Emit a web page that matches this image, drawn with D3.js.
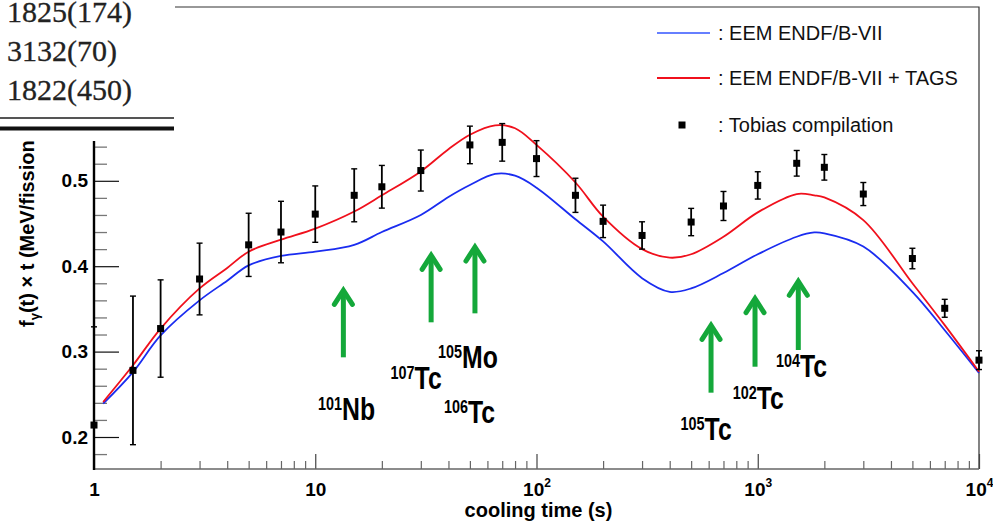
<!DOCTYPE html>
<html>
<head>
<meta charset="utf-8">
<script src="https://cdn.jsdelivr.net/npm/d3@7"></script>
<style>
  html, body { margin: 0; padding: 0; background: #fff; }
  svg { display: block; font-family: "Liberation Sans", Arial, sans-serif; }
</style>
</head>
<body>
<svg id="chart" width="993" height="525"></svg>
<script>
// Calculated gamma decay heat curves (cooling time in s, f_gamma(t) x t in MeV/fission)
const modelTime = [1.1, 1.5, 2, 3, 4, 5, 7, 10, 15, 20, 30, 40, 50, 65, 80, 100, 150, 200, 300, 400, 500, 700, 1000, 1500, 1800, 2000, 3000, 5000, 7000, 10000];
const endfB7 = [0.239, 0.276, 0.319, 0.360, 0.383, 0.401, 0.412, 0.417, 0.425, 0.440, 0.460, 0.481, 0.495, 0.508, 0.506, 0.492, 0.455, 0.429, 0.386, 0.370, 0.374, 0.392, 0.414, 0.4345, 0.4395, 0.4385, 0.423, 0.370, 0.325, 0.275];
const endfB7Tags = [0.241, 0.284, 0.327, 0.374, 0.398, 0.417, 0.431, 0.444, 0.464, 0.483, 0.511, 0.537, 0.554, 0.565, 0.5615, 0.542, 0.498, 0.458, 0.420, 0.410, 0.414, 0.4345, 0.463, 0.4845, 0.483, 0.4806, 0.454, 0.380, 0.331, 0.2765];

// Tobias compilation (value and uncertainty)
const tobiasTime = [1, 1.5, 2, 3, 5, 7, 10, 15, 20, 30, 50, 70, 100, 150, 200, 300, 500, 700, 1000, 1500, 2000, 3000, 5000, 7000, 10000];
const tobiasValue = [0.214, 0.278, 0.327, 0.385, 0.425, 0.440, 0.461, 0.483, 0.493, 0.512, 0.542, 0.545, 0.526, 0.483, 0.4525, 0.436, 0.4517, 0.4705, 0.4946, 0.5205, 0.5158, 0.4845, 0.409, 0.3507, 0.290];
const tobiasError = [0.115, 0.087, 0.057, 0.042, 0.037, 0.036, 0.033, 0.031, 0.025, 0.024, 0.022, 0.022, 0.021, 0.020, 0.019, 0.016, 0.016, 0.017, 0.016, 0.015, 0.015, 0.0135, 0.012, 0.0105, 0.011];

// Main contributing nuclides: arrow time, arrow tip / tail values, label anchor
const nuclideMass = ["101", "107", "105", "106", "105", "102", "104"];
const nuclideSymbol = ["Nb", "Tc", "Mo", "Tc", "Tc", "Tc", "Tc"];
const labelTime = [10.3, 21.9, 35.9, 38.2, 448, 771, 1209];
const labelValue = [0.2199, 0.2562, 0.2808, 0.2164, 0.1965, 0.2324, 0.2706];
const arrowTime = [13.4, 33.4, 52.7, 615, 972, 1525];
const arrowTip = [0.3741, 0.4151, 0.4248, 0.3331, 0.3643, 0.3847];
const arrowTail = [0.2933, 0.3343, 0.3448, 0.2519, 0.2823, 0.3019];

// Axis ticks
const xTickValues = [1, 10, 100, 1000, 10000];
const xTickLabels = [["1", ""], ["10", ""], ["10", "2"], ["10", "3"], ["10", "4"]];
const yTickValues = [0.2, 0.3, 0.4, 0.5];

// Half-life table rows shown at the top left
const tableRows = ["1825(174)", "3132(70)", "1822(450)"];

const legendLabels = [": EEM ENDF/B-VII", ": EEM ENDF/B-VII + TAGS", ": Tobias compilation"];

const svg = d3.select("#chart");
const plotLeft = 94, plotRight = 979, plotTop = 7, plotBottom = 469;
const sans = "'Liberation Sans', Arial, sans-serif";

const x = d3.scaleLog().domain([1, 1e4]).range([plotLeft, plotRight]);
const y = d3.scaleLinear().domain([0.16253, 0.70351]).range([plotBottom, plotTop]);

// Frame (top and right)
svg.append("path")
  .attr("d", `M${plotLeft},${plotTop}H${plotRight}V${plotBottom}`)
  .attr("fill", "none").attr("stroke", "#333").attr("stroke-width", 1.2);

// X axis ticks: decades labelled, minor ticks in between
const xMinor = [];
for (let e = 0; e < 4; e++) for (let m = 2; m <= 9; m++) xMinor.push(m * Math.pow(10, e));

svg.append("g").attr("transform", `translate(0,${plotBottom})`)
  .call(d3.axisBottom(x).tickValues(xMinor).tickSizeInner(-8).tickSizeOuter(0).tickFormat(""))
  .call(g => g.select(".domain").remove())
  .call(g => g.selectAll("line").attr("stroke", "#666").attr("stroke-width", 1.2));

const xAxisG = svg.append("g").attr("transform", `translate(0,${plotBottom})`)
  .call(d3.axisBottom(x).tickValues(xTickValues).tickSizeInner(-15).tickSizeOuter(0).tickPadding(14).tickFormat(""))
  .call(g => g.select(".domain").remove())
  .call(g => g.selectAll("line").attr("stroke", "#444").attr("stroke-width", 1.2));

xAxisG.selectAll(".tick text")
  .style("font-family", sans).style("font-size", "19px").style("font-weight", "bold").attr("fill", "#000")
  .each(function (d, i) {
    const t = d3.select(this);
    t.append("tspan").text(xTickLabels[i][0]);
    if (xTickLabels[i][1]) {
      t.append("tspan").style("font-size", "12px").attr("dy", "-0.75em").text(xTickLabels[i][1]);
    }
  });

svg.append("line")
  .attr("x1", plotLeft).attr("x2", plotRight).attr("y1", plotBottom).attr("y2", plotBottom)
  .attr("stroke", "#666").attr("stroke-width", 1.6);

// Y axis
const yMinor = d3.range(0.18, 0.70, 0.02).filter(v => Math.abs(v * 10 - Math.round(v * 10)) > 0.01);
svg.append("g").attr("transform", `translate(${plotLeft},0)`)
  .call(d3.axisLeft(y).tickValues(yMinor).tickSizeInner(-13).tickSizeOuter(0).tickFormat(""))
  .call(g => g.select(".domain").remove())
  .call(g => g.selectAll("line").attr("stroke", "#777").attr("stroke-width", 1.3));

svg.append("g").attr("transform", `translate(${plotLeft},0)`)
  .call(d3.axisLeft(y).tickValues(yTickValues).tickSizeInner(-25).tickSizeOuter(0).tickPadding(6).tickFormat(d3.format(".1f")))
  .call(g => g.select(".domain").remove())
  .call(g => g.selectAll("line").attr("stroke", "#111").attr("stroke-width", 1.2))
  .call(g => g.selectAll("text").attr("fill", "#000")
    .style("font-family", sans).style("font-size", "19px").style("font-weight", "bold"));

svg.append("line")
  .attr("x1", plotLeft).attr("x2", plotLeft).attr("y1", plotTop).attr("y2", plotBottom + 1)
  .attr("stroke", "#000").attr("stroke-width", 2.4);

// Axis titles
svg.append("text")
  .attr("x", (plotLeft + plotRight) / 2 + 2).attr("y", 517)
  .attr("text-anchor", "middle").style("font-size", "20px").style("font-weight", "bold")
  .text("cooling time (s)");

const yTitle = svg.append("text")
  .attr("transform", "translate(34,327) rotate(-90)")
  .attr("text-anchor", "start").style("font-size", "20px").style("font-weight", "bold");
yTitle.append("tspan").text("f");
yTitle.append("tspan").style("font-size", "13px").attr("dy", 5).text("γ");
yTitle.append("tspan").attr("dy", -5).text("(t) × t (MeV/fission)");

// Clip for data marks
svg.append("clipPath").attr("id", "plotClip")
  .append("rect").attr("x", plotLeft - 10).attr("y", plotTop)
  .attr("width", plotRight - plotLeft + 20).attr("height", plotBottom - plotTop);

const plot = svg.append("g").attr("clip-path", "url(#plotClip)");

const line = (vals) => d3.line()
  .x((d, i) => x(modelTime[i]))
  .y(d => y(d))
  .curve(d3.curveCatmullRom.alpha(0.5))(vals);

plot.append("path").attr("d", line(endfB7))
  .attr("fill", "none").attr("stroke", "#1a2cf0").attr("stroke-width", 1.8);
plot.append("path").attr("d", line(endfB7Tags))
  .attr("fill", "none").attr("stroke", "#f0101c").attr("stroke-width", 1.8);

// Error bars and markers
const pts = plot.append("g");
tobiasTime.forEach((t, i) => {
  const cx = x(t);
  const yHi = y(tobiasValue[i] + tobiasError[i]);
  const yLo = y(tobiasValue[i] - tobiasError[i]);
  pts.append("line").attr("x1", cx).attr("x2", cx).attr("y1", yHi).attr("y2", yLo)
    .attr("stroke", "#000").attr("stroke-width", 1.8);
  [yHi, yLo].forEach(yy => pts.append("line")
    .attr("x1", cx - 3).attr("x2", cx + 3).attr("y1", yy).attr("y2", yy)
    .attr("stroke", "#000").attr("stroke-width", 1.4));
  pts.append("rect").attr("x", cx - 3.5).attr("y", y(tobiasValue[i]) - 3.5)
    .attr("width", 7).attr("height", 7).attr("fill", "#000");
});

// Green arrows marking the main contributors
const green = "#14a83a";
const arrows = svg.append("g").attr("stroke", green).attr("fill", "none")
  .attr("stroke-width", 5);
arrowTime.forEach((t, i) => {
  const ax = x(t), tip = y(arrowTip[i]), tail = y(arrowTail[i]);
  arrows.append("line").attr("x1", ax).attr("x2", ax).attr("y1", tip + 3).attr("y2", tail);
  arrows.append("path")
    .attr("d", `M${ax - 9},${tip + 16}L${ax},${tip + 2}L${ax + 9},${tip + 16}`)
    .attr("stroke-linejoin", "miter").attr("stroke-linecap", "round");
});

// Nuclide labels
nuclideSymbol.forEach((s, i) => {
  const g = svg.append("g")
    .attr("transform", `translate(${x(labelTime[i])},${y(labelValue[i])}) scale(0.8,1)`);
  const t = g.append("text").style("font-weight", "bold").attr("fill", "#000");
  t.append("tspan").style("font-size", "18px").attr("dy", -10).text(nuclideMass[i]);
  t.append("tspan").style("font-size", "31px").attr("dy", 10).text(s);
});

// Legend
const legend = svg.append("g");
const legendY = [33, 78, 125];
legend.append("line").attr("x1", 657).attr("x2", 710).attr("y1", legendY[0]).attr("y2", legendY[0])
  .attr("stroke", "#3355ff").attr("stroke-width", 1.6);
legend.append("line").attr("x1", 657).attr("x2", 710).attr("y1", legendY[1]).attr("y2", legendY[1])
  .attr("stroke", "#f0101c").attr("stroke-width", 1.8);
legend.append("rect").attr("x", 678.5).attr("y", legendY[2] - 3.5).attr("width", 7).attr("height", 7).attr("fill", "#000");
legendLabels.forEach((l, i) => legend.append("text")
  .attr("x", 718).attr("y", legendY[i] + 7).style("font-size", "20px").attr("fill", "#111").text(l));

// Table excerpt covering the top left corner
svg.append("rect").attr("x", 0).attr("y", 0).attr("width", 175).attr("height", 141).attr("fill", "#fff");
tableRows.forEach((r, i) => svg.append("text")
  .attr("x", 7).attr("y", [21.5, 61, 100][i])
  .style("font-family", "'Liberation Serif', 'Times New Roman', serif")
  .style("font-size", "30px").attr("fill", "#222").attr("stroke", "#222").attr("stroke-width", 0.3)
  .text(r));
svg.append("line").attr("x1", 0).attr("x2", 174).attr("y1", 118).attr("y2", 118)
  .attr("stroke", "#555").attr("stroke-width", 2);
svg.append("line").attr("x1", 0).attr("x2", 174).attr("y1", 128.5).attr("y2", 128.5)
  .attr("stroke", "#111").attr("stroke-width", 4);
</script>
</body>
</html>
